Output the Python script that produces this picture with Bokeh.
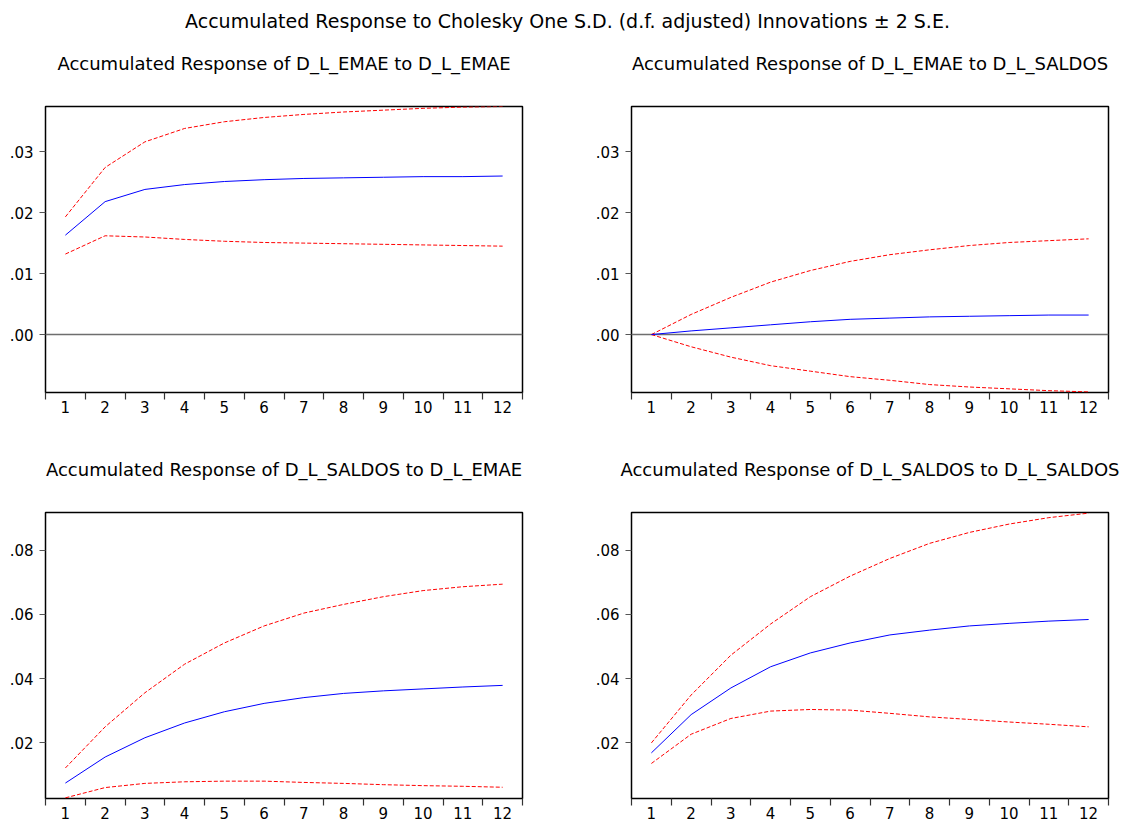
from bokeh.plotting import figure
from bokeh.layouts import column, row
from bokeh.models import FixedTicker, CustomJSTickFormatter, Span
from bokeh.embed import file_html
from bokeh.resources import INLINE
from bokeh.core.properties import value

# Accumulated impulse responses (Cholesky, d.f. adjusted) with +/- 2 S.E. bands
periods = [1, 2, 3, 4, 5, 6, 7, 8, 9, 10, 11, 12]

main_title = "Accumulated Response to Cholesky One S.D. (d.f. adjusted) Innovations \u00b1 2 S.E."

titles = [
    "Accumulated Response of D_L_EMAE to D_L_EMAE",
    "Accumulated Response of D_L_EMAE to D_L_SALDOS",
    "Accumulated Response of D_L_SALDOS to D_L_EMAE",
    "Accumulated Response of D_L_SALDOS to D_L_SALDOS",
]

# D_L_EMAE -> D_L_EMAE
resp_ee = [0.0163, 0.0218, 0.0238, 0.0246, 0.0251, 0.0254, 0.0256, 0.0257, 0.0258, 0.0259, 0.0259, 0.0260]
upper_ee = [0.0193, 0.0274, 0.0316, 0.0338, 0.0349, 0.0356, 0.0361, 0.0365, 0.0368, 0.0371, 0.0373, 0.0374]
lower_ee = [0.0132, 0.0162, 0.0160, 0.0156, 0.0153, 0.0151, 0.0150, 0.0149, 0.0148, 0.0147, 0.0146, 0.0145]

# D_L_EMAE -> D_L_SALDOS
resp_es = [0.0, 0.0006, 0.0011, 0.0016, 0.0021, 0.0025, 0.0027, 0.0029, 0.0030, 0.0031, 0.0032, 0.0032]
upper_es = [0.0, 0.0033, 0.0061, 0.0086, 0.0105, 0.0120, 0.0131, 0.0139, 0.0146, 0.0151, 0.0154, 0.0157]
lower_es = [0.0, -0.0020, -0.0037, -0.0051, -0.0060, -0.0069, -0.0075, -0.0082, -0.0086, -0.0089, -0.0092, -0.0094]

# D_L_SALDOS -> D_L_EMAE
resp_se = [0.0075, 0.0156, 0.0216, 0.0262, 0.0297, 0.0323, 0.0341, 0.0354, 0.0362, 0.0368, 0.0374, 0.0379]
upper_se = [0.0122, 0.0250, 0.0356, 0.0445, 0.0511, 0.0564, 0.0604, 0.0631, 0.0655, 0.0674, 0.0686, 0.0694]
lower_se = [0.0029, 0.0061, 0.0074, 0.0079, 0.0081, 0.0081, 0.0077, 0.0074, 0.0070, 0.0067, 0.0065, 0.0062]

# D_L_SALDOS -> D_L_SALDOS
resp_ss = [0.0169, 0.0288, 0.0371, 0.0437, 0.0480, 0.0511, 0.0536, 0.0551, 0.0564, 0.0572, 0.0579, 0.0584]
upper_ss = [0.0200, 0.0349, 0.0473, 0.0570, 0.0655, 0.0719, 0.0774, 0.0821, 0.0855, 0.0881, 0.0901, 0.0915]
lower_ss = [0.0136, 0.0227, 0.0276, 0.0299, 0.0304, 0.0302, 0.0292, 0.0281, 0.0273, 0.0265, 0.0258, 0.0250]

top_yticks = [0.0, 0.01, 0.02, 0.03]
bottom_yticks = [0.02, 0.04, 0.06, 0.08]
top_yrange = (-0.0095, 0.0374)
bottom_yrange = (0.0027, 0.0917)

FONT = "DejaVu Sans"
FRAME_W, FRAME_H = 477, 286
LEFT_COL = (45, 63)    # left / right border of the left column
RIGHT_COL = (46, 26)   # left / right border of the right column


def text_strip(text, width, height, x, y, size):
    """A bare figure that only carries one line of text."""
    h = figure(width=width, height=height, x_range=(0, width), y_range=(0, height),
               output_backend="svg", toolbar_location=None, min_border=0)
    h.axis.visible = False
    h.xgrid.visible = False
    h.ygrid.visible = False
    h.outline_line_color = None
    h.text(x=[x], y=[height - y], text=[text], text_align="center",
           text_baseline="middle", text_font=value(FONT), text_font_size=size,
           text_color="black")
    return h


def panel(resp, upper, lower, yrange, yticks, borders, border_top, border_bottom, zero_line):
    p = figure(frame_width=FRAME_W, frame_height=FRAME_H,
               x_range=(periods[0] - 0.5, periods[-1] + 0.5), y_range=yrange,
               output_backend="svg", toolbar_location=None,
               min_border_left=borders[0], min_border_right=borders[1],
               min_border_top=border_top, min_border_bottom=border_bottom)
    p.xgrid.visible = False
    p.ygrid.visible = False
    p.outline_line_color = "black"
    p.outline_line_width = 1.5
    p.background_fill_color = "white"
    p.border_fill_color = "white"

    # period labels centred, tick marks on the boundaries between periods
    p.xaxis.ticker = FixedTicker(ticks=periods,
                                 minor_ticks=[k - 0.5 for k in periods] + [periods[-1] + 0.5])
    p.xaxis.axis_line_color = None
    p.xaxis.major_tick_line_color = None
    p.xaxis.major_tick_out = 7
    p.xaxis.major_tick_in = 0
    p.xaxis.minor_tick_out = 7
    p.xaxis.minor_tick_in = 0
    p.xaxis.minor_tick_line_color = "#333333"
    p.xaxis.minor_tick_line_width = 1.2
    p.xaxis.major_label_standoff = 1
    p.xaxis.major_label_text_font = FONT
    p.xaxis.major_label_text_font_size = "15px"
    p.xaxis.major_label_text_color = "black"

    p.yaxis.ticker = FixedTicker(ticks=yticks, minor_ticks=[])
    p.yaxis.formatter = CustomJSTickFormatter(code="return tick.toFixed(2).replace(/^0/, '');")
    p.yaxis.axis_line_color = None
    p.yaxis.major_tick_out = 6
    p.yaxis.major_tick_in = 0
    p.yaxis.major_tick_line_color = "#555555"
    p.yaxis.major_tick_line_width = 1.2
    p.yaxis.major_label_standoff = 6
    p.yaxis.major_label_text_font = FONT
    p.yaxis.major_label_text_font_size = "15px"
    p.yaxis.major_label_text_color = "black"

    if zero_line:
        p.add_layout(Span(location=0, dimension="width", line_color="#6e6e6e",
                          line_width=1.5, level="underlay"))

    p.line(periods, upper, line_color="#FF0000", line_width=1, line_dash="4 2")
    p.line(periods, lower, line_color="#FF0000", line_width=1, line_dash="4 2")
    p.line(periods, resp, line_color="#0000FF", line_width=1)
    return p


left_w = LEFT_COL[0] + FRAME_W + LEFT_COL[1]
right_w = RIGHT_COL[0] + FRAME_W + RIGHT_COL[1]
left_cx = LEFT_COL[0] + FRAME_W / 2
right_cx = RIGHT_COL[0] + FRAME_W / 2

head = text_strip(main_title, left_w + right_w, 40, (left_w + right_w) / 2, 20, "19px")

sub11 = text_strip(titles[0], left_w, 45, left_cx, 23, "18px")
sub12 = text_strip(titles[1], right_w, 45, right_cx, 23, "18px")
sub21 = text_strip(titles[2], left_w, 60, left_cx, 39, "18px")
sub22 = text_strip(titles[3], right_w, 60, right_cx, 39, "18px")

p11 = panel(resp_ee, upper_ee, lower_ee, top_yrange, top_yticks, LEFT_COL, 21, 38, True)
p12 = panel(resp_es, upper_es, lower_es, top_yrange, top_yticks, RIGHT_COL, 21, 38, True)
p21 = panel(resp_se, upper_se, lower_se, bottom_yrange, bottom_yticks, LEFT_COL, 22, 25, False)
p22 = panel(resp_ss, upper_ss, lower_ss, bottom_yrange, bottom_yticks, RIGHT_COL, 22, 25, False)

layout = column(head, row(sub11, sub12), row(p11, p12),
                row(sub21, sub22), row(p21, p22))

with open("out.html", "w") as f:
    f.write(file_html(layout, INLINE))
